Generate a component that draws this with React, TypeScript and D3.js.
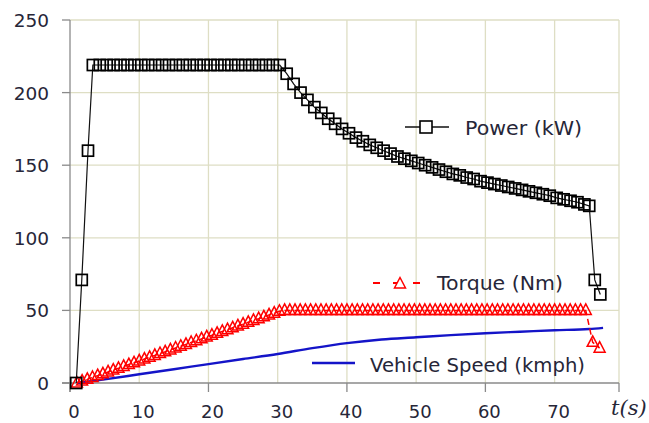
import React, { useRef, useEffect } from "react";
import * as d3 from "d3";

// power (kW) samples
const powerTime = [
  0.9, 1.7, 2.6,
  3.3, 4.3, 5.3, 6.3, 7.3, 8.3, 9.3, 10.3, 11.3, 12.3, 13.3, 14.3, 15.3, 16.3,
  17.3, 18.3, 19.3, 20.3, 21.3, 22.3, 23.3, 24.3, 25.3, 26.3, 27.3, 28.3, 29.3, 30.3,
  31.3, 32.3, 33.3, 34.3, 35.3, 36.3, 37.3, 38.3, 39.3, 40.3, 41.3, 42.3, 43.3,
  44.3, 45.3, 46.3, 47.3, 48.3, 49.3, 50.3, 51.3, 52.3, 53.3, 54.3, 55.3, 56.3,
  57.3, 58.3, 59.3, 60.3, 61.3, 62.3, 63.3, 64.3, 65.3, 66.3, 67.3, 68.3, 69.3,
  70.3, 71.3, 72.3, 73.3, 74.3, 75.0, 75.8, 76.6,
];
const powerKW = [
  0, 71, 160,
  219, 219, 219, 219, 219, 219, 219, 219, 219, 219, 219, 219, 219, 219,
  219, 219, 219, 219, 219, 219, 219, 219, 219, 219, 219, 219, 219, 219,
  213, 206, 200, 195, 190, 186, 182, 178.5, 175, 172, 169, 166.5, 164,
  162, 160, 158, 156, 154.5, 153, 151.5, 150, 148.5, 147, 145.5, 144, 143,
  141.5, 140.5, 139, 138, 137, 136, 135, 134, 133, 132, 131, 130, 129,
  127.5, 126.5, 125.5, 124.5, 123, 122, 71, 61,
];

// torque (Nm) samples
const torqueTime = [
  1, 1.75, 2.5, 3.25, 4, 4.75, 5.5, 6.25, 7, 7.75, 8.5, 9.25, 10, 10.75, 11.5,
  12.25, 13, 13.75, 14.5, 15.25, 16, 16.75, 17.5, 18.25, 19, 19.75, 20.5, 21.25,
  22, 22.75, 23.5, 24.25, 25, 25.75, 26.5, 27.25, 28, 28.75, 29.5, 30.25,
  31, 31.75, 32.5, 33.25, 34, 34.75, 35.5, 36.25, 37, 37.75, 38.5, 39.25, 40,
  40.75, 41.5, 42.25, 43, 43.75, 44.5, 45.25, 46, 46.75, 47.5, 48.25, 49, 49.75,
  50.5, 51.25, 52, 52.75, 53.5, 54.25, 55, 55.75, 56.5, 57.25, 58, 58.75, 59.5,
  60.25, 61, 61.75, 62.5, 63.25, 64, 64.75, 65.5, 66.25, 67, 67.75, 68.5, 69.25,
  70, 70.75, 71.5, 72.25, 73, 73.75, 74.5, 75.5, 76.5,
];
const torqueNm = [
  0, 1.3, 2.5, 3.8, 5.1, 6.3, 7.6, 8.9, 10.1, 11.4, 12.7, 13.9, 15.2, 16.5, 17.7,
  19, 20.3, 21.5, 22.8, 24.1, 25.3, 26.6, 27.9, 29.1, 30.4, 31.7, 32.9, 34.2,
  35.5, 36.7, 38, 39.3, 40.5, 41.8, 43.1, 44.3, 45.6, 46.9, 48.1, 49.4,
  50, 50, 50, 50, 50, 50, 50, 50, 50, 50, 50, 50, 50,
  50, 50, 50, 50, 50, 50, 50, 50, 50, 50, 50, 50, 50,
  50, 50, 50, 50, 50, 50, 50, 50, 50, 50, 50, 50, 50,
  50, 50, 50, 50, 50, 50, 50, 50, 50, 50, 50, 50, 50,
  50, 50, 50, 50, 50, 50, 50, 28, 24,
];

// vehicle speed (kmph)
const speedTime = [1, 5, 10, 15, 20, 25, 30, 35, 40, 45, 50, 55, 60, 65, 70, 75, 77];
const speedKmph = [0, 2.5, 6, 9.5, 13, 16.5, 20, 24, 27.5, 30, 31.5, 33, 34.3, 35.3, 36.3, 37.2, 38];

const yTicks = [0, 50, 100, 150, 200, 250];
const xLabels = [0, 10, 20, 30, 40, 50, 60, 70];
const xGrid = [10, 20, 30, 40, 50, 60, 70];
const xTickMarks = [0, 20, 40, 60];

const FONT = "'DejaVu Sans', Verdana, sans-serif";
const GRID = "#dedec4";
const AXIS = "#8a8a8a";
const TEXT = "#262638";

export default function App() {
  const ref = useRef<SVGSVGElement>(null);

  useEffect(() => {
    const svg = d3.select(ref.current);
    svg.selectAll("*").remove();

    const xMax = 79.3;
    const x = d3.scaleLinear().domain([0, xMax]).range([70, 619]);
    const y = d3.scaleLinear().domain([0, 250]).range([383, 20]);

    // grid
    const g = svg.append("g");
    g.selectAll("line.h")
      .data(yTicks.filter((d) => d > 0))
      .enter()
      .append("line")
      .attr("x1", x(0))
      .attr("x2", x(xMax))
      .attr("y1", (d) => y(d))
      .attr("y2", (d) => y(d))
      .attr("stroke", GRID)
      .attr("stroke-width", 1.3);
    g.selectAll("line.v")
      .data([...xGrid, xMax])
      .enter()
      .append("line")
      .attr("x1", (d) => x(d))
      .attr("x2", (d) => x(d))
      .attr("y1", y(250))
      .attr("y2", y(0))
      .attr("stroke", GRID)
      .attr("stroke-width", 1.3);

    // axes
    g.append("line")
      .attr("x1", x(0)).attr("x2", x(0))
      .attr("y1", y(250)).attr("y2", y(0) + 9)
      .attr("stroke", AXIS).attr("stroke-width", 1.3);
    g.append("line")
      .attr("x1", x(0) - 8).attr("x2", x(xMax))
      .attr("y1", y(0)).attr("y2", y(0))
      .attr("stroke", AXIS).attr("stroke-width", 1.3);
    g.selectAll("line.yt")
      .data(yTicks)
      .enter()
      .append("line")
      .attr("x1", x(0) - 8).attr("x2", x(0))
      .attr("y1", (d) => y(d)).attr("y2", (d) => y(d))
      .attr("stroke", AXIS).attr("stroke-width", 1.3);
    g.selectAll("line.xt")
      .data([...xTickMarks, xMax])
      .enter()
      .append("line")
      .attr("x1", (d) => x(d)).attr("x2", (d) => x(d))
      .attr("y1", y(0)).attr("y2", y(0) + 9)
      .attr("stroke", AXIS).attr("stroke-width", 1.3);

    // tick labels
    g.selectAll("text.yl")
      .data(yTicks)
      .enter()
      .append("text")
      .attr("x", 49)
      .attr("y", (d) => y(d) + 7)
      .attr("text-anchor", "end")
      .attr("font-family", FONT)
      .attr("font-size", 18.5)
      .attr("fill", TEXT)
      .text((d) => d);
    g.selectAll("text.xl")
      .data(xLabels)
      .enter()
      .append("text")
      .attr("x", (d) => x(d) + 4)
      .attr("y", 418)
      .attr("text-anchor", "middle")
      .attr("font-family", FONT)
      .attr("font-size", 18)
      .attr("fill", TEXT)
      .text((d) => d);

    svg.append("text")
      .attr("x", 611)
      .attr("y", 415)
      .attr("font-family", "'DejaVu Serif', 'Liberation Serif', serif")
      .attr("font-style", "italic")
      .attr("font-size", 21)
      .attr("fill", TEXT)
      .text("t(s)");

    // speed line
    const speed = speedTime.map((t, i) => [t, speedKmph[i]] as [number, number]);
    svg.append("path")
      .datum(speed)
      .attr("d", d3.line<[number, number]>().x((d) => x(d[0])).y((d) => y(d[1])).curve(d3.curveMonotoneX))
      .attr("fill", "none")
      .attr("stroke", "#1414c8")
      .attr("stroke-width", 2.4);

    // torque
    const torque = torqueTime.map((t, i) => [t, torqueNm[i]] as [number, number]);
    svg.append("path")
      .datum(torque)
      .attr("d", d3.line<[number, number]>().x((d) => x(d[0])).y((d) => y(d[1])))
      .attr("fill", "none")
      .attr("stroke", "#ff0000")
      .attr("stroke-width", 1.5)
      .attr("stroke-dasharray", "6,4");
    const tri = "M0,-6.5L5.5,4L-5.5,4Z";
    svg.append("g")
      .selectAll("path")
      .data(torque)
      .enter()
      .append("path")
      .attr("d", tri)
      .attr("transform", (d) => `translate(${x(d[0])},${y(d[1])})`)
      .attr("fill", "none")
      .attr("stroke", "#ff0000")
      .attr("stroke-width", 1.5);

    // power
    const power = powerTime.map((t, i) => [t, powerKW[i]] as [number, number]);
    svg.append("path")
      .datum(power)
      .attr("d", d3.line<[number, number]>().x((d) => x(d[0])).y((d) => y(d[1])))
      .attr("fill", "none")
      .attr("stroke", "#111")
      .attr("stroke-width", 1.2);
    svg.append("g")
      .selectAll("rect")
      .data(power)
      .enter()
      .append("rect")
      .attr("x", (d) => x(d[0]) - 5.5)
      .attr("y", (d) => y(d[1]) - 5.5)
      .attr("width", 11)
      .attr("height", 11)
      .attr("fill", "none")
      .attr("stroke", "#000")
      .attr("stroke-width", 1.7);

    // legends
    const lg = svg.append("g");
    lg.append("line").attr("x1", 405).attr("x2", 449).attr("y1", 127).attr("y2", 127)
      .attr("stroke", "#111").attr("stroke-width", 1.3);
    lg.append("rect").attr("x", 420).attr("y", 121).attr("width", 12).attr("height", 12)
      .attr("fill", "#fff").attr("stroke", "#000").attr("stroke-width", 1.6);
    lg.append("text").attr("x", 465).attr("y", 135)
      .attr("font-family", FONT).attr("font-size", 19.5).attr("fill", TEXT)
      .attr("textLength", 117).attr("lengthAdjust", "spacingAndGlyphs")
      .text("Power (kW)");

    lg.append("line").attr("x1", 373).attr("x2", 428).attr("y1", 283).attr("y2", 283)
      .attr("stroke", "#ff0000").attr("stroke-width", 2).attr("stroke-dasharray", "7,13");
    lg.append("path").attr("d", tri).attr("transform", "translate(400,284)")
      .attr("fill", "#fff").attr("stroke", "#ff0000").attr("stroke-width", 1.5);
    lg.append("text").attr("x", 437).attr("y", 290)
      .attr("font-family", FONT).attr("font-size", 19).attr("fill", TEXT)
      .attr("textLength", 126).attr("lengthAdjust", "spacingAndGlyphs")
      .text("Torque (Nm)");

    lg.append("line").attr("x1", 312).attr("x2", 355).attr("y1", 363).attr("y2", 363)
      .attr("stroke", "#1414c8").attr("stroke-width", 2.6);
    lg.append("text").attr("x", 370).attr("y", 372)
      .attr("font-family", FONT).attr("font-size", 19).attr("fill", TEXT)
      .attr("textLength", 215).attr("lengthAdjust", "spacingAndGlyphs")
      .text("Vehicle Speed (kmph)");
  }, []);

  return (
    <div style={{ position: "fixed", left: 0, top: 0, width: 649, height: 423, background: "#fff" }}>
      <svg ref={ref} width={649} height={423}></svg>
    </div>
  );
}
